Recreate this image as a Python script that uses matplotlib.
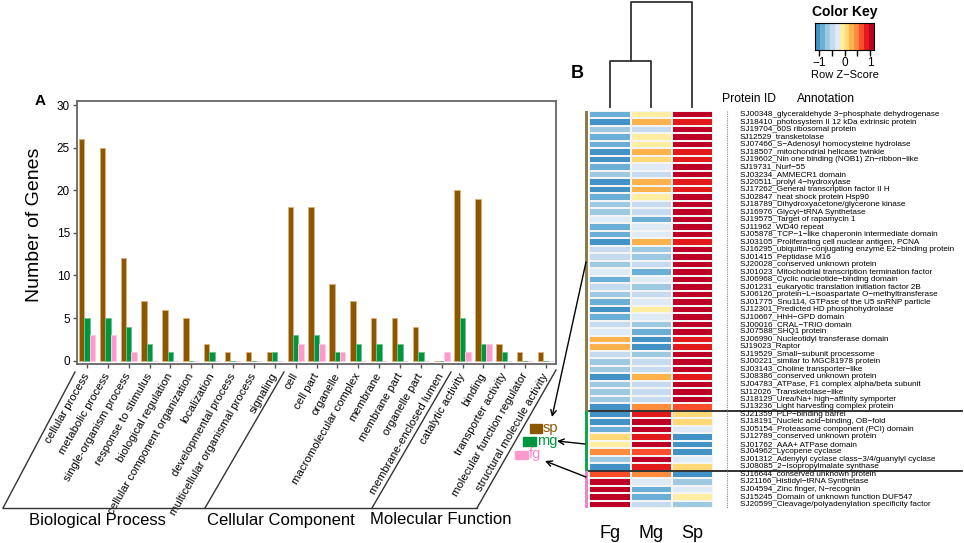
import numpy as np
import matplotlib
matplotlib.use('Agg')
import matplotlib.pyplot as plt
from matplotlib.colors import ListedColormap, BoundaryNorm
from matplotlib.patches import Rectangle

plt.rcParams['font.family'] = ['Liberation Sans', 'DejaVu Sans']

# ---- panel A: GO term counts ----
go_terms = ['cellular process', 'metabolic process', 'single-organism process',
            'response to stimulus', 'biological regulation',
            'cellular component organization', 'localization',
            'developmental process', 'multicellular organismal process', 'signaling',
            'cell', 'cell part', 'organelle', 'macromolecular complex', 'membrane',
            'membrane part', 'organelle part', 'membrane-enclosed lumen',
            'catalytic activity', 'binding', 'transporter activity',
            'molecular function regulator', 'structural molecule activity']
sp_counts = [26, 25, 12, 7, 6, 5, 2, 1, 1, 1, 18, 18, 9, 7, 5, 5, 4, 0, 20, 19, 2, 1, 1]
mg_counts = [5, 5, 4, 2, 1, 0, 1, 0, 0, 1, 3, 3, 1, 2, 2, 2, 1, 0, 5, 2, 1, 0, 0]
fg_counts = [3, 3, 1, 0, 0, 0, 0, 0, 0, 0, 2, 2, 1, 0, 0, 0, 0, 1, 1, 2, 0, 0, 0]
group_names = ['Biological Process', 'Cellular Component', 'Molecular Function']

# ---- panel B: heatmap ----
protein_ids = ['SJ00348', 'SJ18410', 'SJ19704', 'SJ12529', 'SJ07466', 'SJ18507', 'SJ19602',
               'SJ19731', 'SJ03234', 'SJ20511', 'SJ17262', 'SJ02847', 'SJ18789', 'SJ16976',
               'SJ19575', 'SJ11962', 'SJ05878', 'SJ03105', 'SJ16295', 'SJ01415', 'SJ20028',
               'SJ01023', 'SJ06968', 'SJ01231', 'SJ06126', 'SJ01775', 'SJ12301', 'SJ10667',
               'SJ00016', 'SJ07588', 'SJ06990', 'SJ19023', 'SJ19529', 'SJ00221', 'SJ03143',
               'SJ08386', 'SJ04783', 'SJ12026', 'SJ18129', 'SJ13236',
               'SJ21359', 'SJ18191', 'SJ05154', 'SJ12789', 'SJ01762', 'SJ04962', 'SJ01312',
               'SJ08085',
               'SJ16644', 'SJ21166', 'SJ04594', 'SJ15245', 'SJ20599']
annotations = ['glyceraldehyde 3\u2212phosphate dehydrogenase',
               'photosystem II 12 kDa extrinsic protein',
               '60S ribosomal protein',
               'transketolase',
               'S\u2212Adenosyl homocysteine hydrolase',
               'mitochondrial helicase twinkle',
               'Nin one binding (NOB1) Zn\u2212ribbon\u2212like',
               'Nurf\u221255',
               'AMMECR1 domain',
               'prolyl 4\u2212hydroxylase',
               'General transcription factor II H',
               'heat shock protein Hsp90',
               'Dihydroxyacetone/glycerone kinase',
               'Glycyl\u2212tRNA Synthetase',
               'Target of rapamycin 1',
               'WD40 repeat',
               'TCP\u22121\u2212like chaperonin intermediate domain',
               'Proliferating cell nuclear antigen, PCNA',
               'ubiquitin\u2212conjugating enzyme E2\u2212binding protein',
               'Peptidase M16',
               'conserved unknown protein',
               'Mitochodrial transcription termination factor',
               'Cyclic nucleotide\u2212binding domain',
               'eukaryotic translation initiation factor 2B',
               'protein\u2212L\u2212isoaspartate O\u2212methyltransferase',
               'Snu114, GTPase of the U5 snRNP particle',
               'Predicted HD phosphohydrolase',
               'HhH\u2212GPD domain',
               'CRAL\u2212TRIO domain',
               'SHQ1 protein',
               'Nucleotidyl transferase domain',
               'Raptor',
               'Small\u2212subunit processome',
               'similar to MGC81978 protein',
               'Choline transporter\u2212like',
               'conserved unknown protein',
               'ATPase, F1 complex alpha/beta subunit',
               'Transketolase\u2212like',
               'Urea/Na+ high\u2212affinity symporter',
               'Light harvesting complex protein',
               'PLP\u2212binding barrel',
               'Nucleic acid\u2212binding, OB\u2212fold',
               'Proteasome component (PCI) domain',
               'conserved unknown protein',
               'AAA+ ATPase domain',
               'Lycopene cyclase',
               'Adenylyl cyclase class\u22123/4/guanylyl cyclase',
               '2\u2212Isopropylmalate synthase',
               'conserved unknown protein',
               'Histidyl\u2212tRNA Synthetase',
               'Zinc finger, N\u2212recognin',
               'Domain of unknown function DUF547',
               'Cleavage/polyadenylation specificity factor']
fg_z = [-0.87, -1.05, -0.62, -0.86, -0.85, -1.07, -1.10, -0.80, -0.65, -1.08,
        -1.06, -0.88, -0.63, -0.66, -0.30, -0.82, -0.81, -1.07, -0.50, -0.52,
        -0.64, -0.31, -0.83, -0.49, -0.66, -0.79, -1.00, -0.80, -0.48, -0.30,
        0.25, 0.26, -0.50, -0.64, -0.65, -1.07, -0.64, -0.63, -0.64, -1.14,
        -1.05, -1.06, -0.85, 0.12, -0.08, 0.45, -0.75, -1.05,
        0.70, 1.12, 1.10, 1.05, 1.12]
mg_z = [-0.15, 0.25, -0.53, -0.17, -0.18, 0.23, 0.15, -0.33, -0.50, 0.26,
        0.24, -0.12, -0.52, -0.49, -0.84, -0.32, -0.33, 0.25, -0.65, -0.63,
        -0.51, -0.83, -0.31, -0.66, -0.49, -0.35, -0.05, -0.34, -0.67, -0.84,
        -1.07, -1.08, -0.65, -0.51, -0.50, 0.25, -0.51, -0.52, -0.51, 0.44,
        0.92, 0.98, 1.10, 0.90, 1.05, 0.65, 1.10, 0.92,
        0.45, -0.33, -0.85, -0.90, -0.50]
sp_z = [1.02, 0.80, 1.15, 1.03, 1.03, 0.84, 0.95, 1.13, 1.15, 0.82,
        0.82, 1.00, 1.15, 1.15, 1.14, 1.14, 1.14, 0.82, 1.15, 1.15,
        1.15, 1.14, 1.14, 1.15, 1.15, 1.14, 1.05, 1.14, 1.15, 1.14,
        0.82, 0.82, 1.15, 1.15, 1.15, 0.82, 1.15, 1.15, 1.15, 0.70,
        0.13, 0.08, -0.25, -1.02, -0.97, -1.10, -0.35, 0.13,
        -1.15, -0.72, -0.25, -0.12, -0.62]
col_names = ['Fg', 'Mg', 'Sp']
block_sizes = [40, 8, 5]
block_colors = ['#8C7C45', '#12A84A', '#EE82C8']
dendro_heights = [0.44, 1.0]
heat_colors = ['#4292C6', '#6BAED6', '#9ECAE1', '#C6DBEF', '#DEEBF7', '#FFEDA0',
               '#FED976', '#FEB24C', '#FD8D3C', '#FC4E2A', '#E31A1C', '#BD0026']
zmax = 1.155

W, H = 964, 543
fig = plt.figure(figsize=(W / 100, H / 100), dpi=100)


def box(x0, y0, x1, y1):
    return [x0 / W, 1 - y1 / H, (x1 - x0) / W, (y1 - y0) / H]


# ---------- panel A ----------
ax = fig.add_axes(box(77, 101, 556, 364))
x = np.arange(len(go_terms))
w = 0.26
ax.bar(x - w, sp_counts, w, color='#8C5700', edgecolor='#D9B27A', linewidth=0.7)
ax.bar(x, mg_counts, w, color='#009640', edgecolor='#6CC48C', linewidth=0.7)
ax.bar(x + w, fg_counts, w, color='#FF99CC', edgecolor='#FFC8E4', linewidth=0.7)
ax.set_xlim(-0.48, len(go_terms) - 0.52)
ax.set_ylim(-0.4, 30.5)
ax.set_yticks(range(0, 31, 5))
ax.set_xticks(x)
ax.set_xticklabels(go_terms, rotation=60, ha='right', va='center',
                   rotation_mode='anchor')
ax.tick_params(axis='both', direction='out', length=3, color='#555555', width=1)
ax.tick_params(axis='y', labelsize=8.5, pad=2)
ax.tick_params(axis='x', labelsize=8.2, pad=4)
for s in ax.spines.values():
    s.set_color('#666666')
    s.set_linewidth(1.3)
ax.set_ylabel('Number of Genes', fontsize=14)
ax.yaxis.set_label_coords(-0.071, 0.53)

# ---------- panel B heatmap ----------
n_rows = len(protein_ids)
hx0, hx1, hy0, hy1 = 589.3, 713, 111, 508
hm = fig.add_axes(box(hx0, hy0, hx1, hy1))
Z = np.column_stack([fg_z, mg_z, sp_z])
cmap = ListedColormap(heat_colors)
norm = BoundaryNorm(np.linspace(-zmax, zmax, len(heat_colors) + 1), cmap.N)
hm.pcolormesh(Z, cmap=cmap, norm=norm, edgecolors='#f4f4f4', linewidth=0.1)
hm.set_xlim(0, 3)
hm.set_ylim(n_rows, 0)
hm.axis('off')

ux = (hx1 - hx0) / 3
uy = (hy1 - hy0) / n_rows


def hx(p):
    return (p - hx0) / ux


def hy(p):
    return (p - hy0) / uy


for i, (pid, ann) in enumerate(zip(protein_ids, annotations)):
    hm.text(hx(740), i + 0.5, pid + '_' + ann, fontsize=5.9, va='center',
            ha='left', clip_on=False)
hm.text(hx(722), hy(99), 'Protein ID', fontsize=8.7, va='center', ha='left')
hm.text(hx(797), hy(99), 'Annotation', fontsize=8.7, va='center', ha='left')

start = 0
for size, c in zip(block_sizes, block_colors):
    hm.add_patch(Rectangle((hx(585.3), start), hx(588) - hx(585.3), size,
                           color=c, clip_on=False, linewidth=0))
    if start > 0:
        hm.plot([0, hx(962)], [start, start], color='#222222', lw=1.3, clip_on=False)
    start += size
hm.plot([hx(727), hx(727)], [0, n_rows], color='#888888', lw=0.8,
        ls=(0, (1, 1)), clip_on=False)

for j, name in enumerate(col_names):
    hm.text(j + 0.5, hy(533), name, fontsize=13, ha='center', va='center')

# dendrogram
dn = fig.add_axes(box(hx0, 1, hx1, 107))
dn.set_xlim(0, 3)
dn.set_ylim(0, 1.01)
dn.axis('off')
h1, h2 = dendro_heights
dcol = '#333333'
dn.plot([0.5, 0.5, 1.5, 1.5], [0, h1, h1, 0], color=dcol, lw=1.3, clip_on=False)
dn.plot([1.0, 1.0, 2.5, 2.5], [h1, h2, h2, 0], color=dcol, lw=1.3, clip_on=False)

# colour key
key = fig.add_axes(box(815, 23, 874, 50))
edges = np.linspace(-zmax, zmax, len(heat_colors) + 1)
centers = (edges[:-1] + edges[1:]) / 2
key.pcolormesh(edges, [0, 1], centers[None, :], cmap=cmap, norm=norm)
key.set_xlim(-zmax, zmax)
key.set_yticks([])
key.set_xticks([-1, -0.5, 0, 0.5, 1])
key.set_xticklabels(['\u22121', '', '0', '', '1'])
key.tick_params(axis='x', length=4, width=1, labelsize=8.5, pad=1)
for s in key.spines.values():
    s.set_linewidth(0.8)
key.set_title('Color Key', fontsize=10, fontweight='bold', pad=5)
key.set_xlabel('Row Z\u2212Score', fontsize=8, labelpad=1)

# ---------- overlay: group lines, legend, arrows, panel letters ----------
ov = fig.add_axes([0, 0, 1, 1], facecolor='none')
ov.set_xlim(0, W)
ov.set_ylim(H, 0)
ov.axis('off')

lc = '#333333'
ov.plot([3, 75], [508, 372], color=lc, lw=1)
ov.plot([3, 205], [508, 508], color=lc, lw=1)
ov.plot([205, 284], [508, 372], color=lc, lw=1)
ov.plot([205, 372], [508, 508], color=lc, lw=1)
ov.plot([372, 451], [508, 372], color=lc, lw=1)
ov.plot([372, 477], [508, 508], color=lc, lw=1)
ov.plot([477, 556], [508, 370], color=lc, lw=1)
for name, cx in zip(group_names, [97, 281, 441]):
    ov.text(cx, 520, name, fontsize=12, ha='center', va='center')

ov.add_patch(Rectangle((530, 424), 12, 8.5, color='#8C5700'))
ov.text(543, 428, 'sp', color='#8C5700', fontsize=10.5, va='center')
ov.add_patch(Rectangle((523, 437), 13, 9, color='#009640'))
ov.text(537, 441, 'mg', color='#009640', fontsize=10.5, va='center')
ov.add_patch(Rectangle((515, 451), 13, 7.5, color='#FF99CC'))
ov.text(529, 454, 'fg', color='#FF88CC', fontsize=10.5, va='center')

arrow = dict(arrowstyle='->', color='black', lw=1, shrinkA=0, shrinkB=0,
             mutation_scale=10)
ov.annotate('', xy=(552, 417), xytext=(586, 262), arrowprops=arrow)
ov.annotate('', xy=(557, 441), xytext=(585, 444), arrowprops=arrow)
ov.annotate('', xy=(545, 461), xytext=(586, 477), arrowprops=arrow)

ov.text(40, 101, 'A', fontsize=11, fontweight='bold', ha='center', va='center')
ov.text(577, 74, 'B', fontsize=13, fontweight='bold', ha='center', va='center')

fig.savefig('out.png', dpi=100)
